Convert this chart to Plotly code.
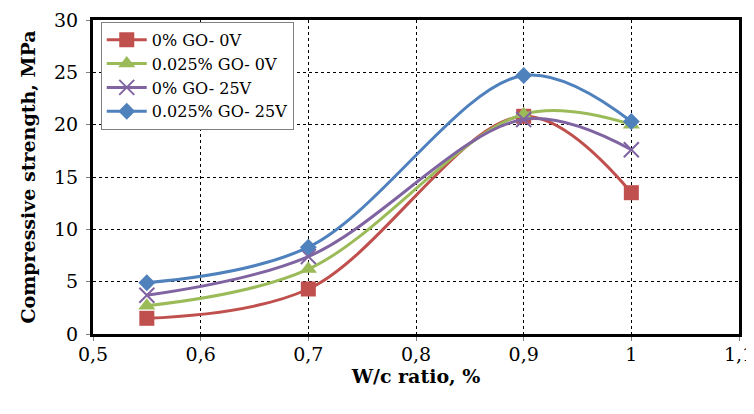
import plotly.graph_objects as go

x_vals = [0.55, 0.7, 0.9, 1.0]
series_names = ["0% GO- 0V", "0.025% GO- 0V", "0% GO- 25V", "0.025% GO- 25V"]
go0_0v = [1.5, 4.3, 20.8, 13.5]
go025_0v = [2.7, 6.2, 21.0, 20.0]
go0_25v = [3.7, 7.4, 20.5, 17.6]
go025_25v = [4.9, 8.3, 24.7, 20.3]
x_ticks = [0.5, 0.6, 0.7, 0.8, 0.9, 1.0, 1.1]
x_tick_labels = ["0,5", "0,6", "0,7", "0,8", "0,9", "1", "1,1"]
y_ticks = [0, 5, 10, 15, 20, 25, 30]

colors = ["#C0504D", "#9BBB59", "#8064A2", "#4F81BD"]
symbols = ["square", "triangle-up", "x-thin", "diamond"]
sizes = [15, 15, 15, 13]
data = [go0_0v, go025_0v, go0_25v, go025_25v]

fig = go.Figure()
for name, ys, c, s, sz in zip(series_names, data, colors, symbols, sizes):
    marker = dict(symbol=s, size=sz, color=c)
    if s == "x-thin":
        marker["line"] = dict(width=2, color=c)
    fig.add_trace(go.Scatter(
        x=x_vals, y=ys, name=name, mode="lines+markers",
        line=dict(color=c, width=3, shape="spline", smoothing=1.0),
        marker=marker,
    ))

font_family = "DejaVu Serif"
fig.update_layout(
    width=754, height=414,
    margin=dict(l=85, r=23, t=12, b=88),
    paper_bgcolor="white", plot_bgcolor="white",
    font=dict(family=font_family, size=19, color="black"),
    legend=dict(
        x=0.012, y=0.994, xanchor="left", yanchor="top",
        bgcolor="white", bordercolor="#808080", borderwidth=1,
        font=dict(family=font_family, size=16, color="black"),
        tracegroupgap=0, itemwidth=40,
    ),
    xaxis=dict(
        range=[0.5, 1.1], tickvals=x_ticks, ticktext=x_tick_labels,
        showgrid=True, gridcolor="black", griddash="dot", gridwidth=1,
        showline=True, linecolor="black", linewidth=3, mirror=True,
        ticks="outside", ticklen=4, tickcolor="#808080",
        zeroline=False, automargin=False,
        ticklabelstandoff=-3, ticklabeloverflow="allow",
        tickfont=dict(family=font_family, size=19),
        title=dict(text="<b>W/c ratio, %</b>", font=dict(family=font_family, size=19), standoff=4),
    ),
    yaxis=dict(
        range=[0, 30], tickvals=y_ticks,
        showgrid=True, gridcolor="black", griddash="dot", gridwidth=1,
        showline=True, linecolor="black", linewidth=3, mirror=True,
        ticks="outside", ticklen=4, tickcolor="#808080",
        zeroline=False, automargin=False,
        ticklabelstandoff=4, ticklabeloverflow="allow",
        tickfont=dict(family=font_family, size=19),
        title=dict(text="<b>Compressive strength, MPa</b>", font=dict(family=font_family, size=19), standoff=14),
    ),
)
fig.write_html("out.html")
